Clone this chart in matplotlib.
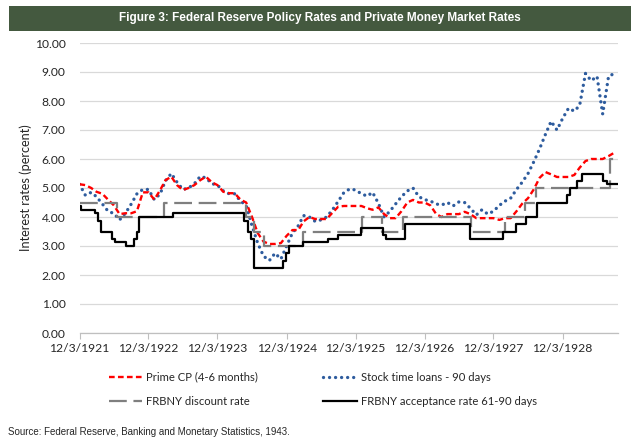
import matplotlib
matplotlib.use("Agg")
import matplotlib.pyplot as plt
from matplotlib.patches import Rectangle
from matplotlib.lines import Line2D
import numpy as np
import pandas as pd

# ---------------- data ----------------
title = "Figure 3: Federal Reserve Policy Rates and Private Money Market Rates"
source = "Source: Federal Reserve, Banking and Monetary Statistics, 1943."
ylabel = "Interest rates (percent)"
names = ["Prime CP (4-6 months)", "Stock time loans - 90 days",
         "FRBNY discount rate", "FRBNY acceptance rate 61-90 days"]
tick_dates = ["1921-12-03", "1922-12-03", "1923-12-03", "1924-12-03",
              "1925-12-03", "1926-12-03", "1927-12-03", "1928-12-03"]
tick_labels = ["12/3/1921", "12/3/1922", "12/3/1923", "12/3/1924",
               "12/3/1925", "12/3/1926", "12/3/1927", "12/3/1928"]
start_date = "1921-12-03"
end_date = "1929-09-17"
y_ticks = [0, 1, 2, 3, 4, 5, 6, 7, 8, 9, 10]

# monthly values, Dec 1921 .. Sep 1929
prime_cp = [5.13, 5.10, 5.00, 4.87, 4.80, 4.60, 4.40, 4.10, 4.13, 4.13,
            4.20, 4.85, 4.85, 4.60, 4.93, 5.27, 5.39, 5.10, 4.93, 5.00,
            5.10, 5.27, 5.39, 5.20, 5.10, 4.87, 4.82, 4.82, 4.60, 4.50,
            4.00, 3.45, 3.15, 3.07, 3.07, 3.10, 3.35, 3.55, 3.55, 3.85,
            4.00, 3.93, 3.93, 3.93, 4.15, 4.36, 4.38, 4.38, 4.38, 4.38,
            4.30, 4.25, 4.33, 4.10, 3.96, 3.96, 4.20, 4.50, 4.59, 4.50,
            4.50, 4.40, 4.10, 4.00, 4.10, 4.10, 4.10, 4.18, 4.10, 3.96,
            3.96, 3.96, 3.96, 3.90, 3.96, 3.96, 4.20, 4.46, 4.65, 4.95,
            5.35, 5.55, 5.47, 5.38, 5.38, 5.38, 5.45, 5.70, 5.93, 6.00,
            6.00, 6.00, 6.10, 6.22]
stock_loans = [5.13, 4.75, 4.85, 4.70, 4.45, 4.20, 4.12, 3.90, 4.13, 4.45,
               4.80, 4.95, 4.95, 4.60, 4.80, 5.25, 5.50, 5.20, 4.95, 5.00,
               5.15, 5.40, 5.35, 5.15, 5.10, 4.90, 4.80, 4.80, 4.55, 4.40,
               3.70, 3.10, 2.65, 2.50, 2.75, 2.55, 3.00, 3.45, 3.70, 4.05,
               4.00, 3.85, 3.90, 4.00, 4.25, 4.55, 4.85, 4.97, 4.93, 4.80,
               4.72, 4.85, 4.47, 4.00, 4.20, 4.45, 4.70, 4.90, 5.00, 4.70,
               4.60, 4.55, 4.45, 4.41, 4.50, 4.38, 4.52, 4.50, 4.30, 4.07,
               4.25, 4.10, 4.20, 4.40, 4.55, 4.65, 4.95, 5.20, 5.50, 5.90,
               6.35, 6.85, 7.30, 7.00, 7.40, 7.75, 7.65, 7.85, 8.95, 8.70,
               8.85, 7.55, 8.85, 8.95]

# step series: dates of change and new level
discount_dates = ["1921-12-03", "1922-06-22", "1923-02-23", "1924-05-01",
                  "1924-06-12", "1924-08-08", "1925-02-27", "1926-01-08",
                  "1926-04-23", "1926-08-13", "1927-08-05", "1928-02-03",
                  "1928-05-18", "1928-07-13", "1929-08-09"]
discount_rate = [4.5, 4.0, 4.5, 4.0, 3.5, 3.0, 3.5, 4.0, 3.5, 4.0, 3.5, 4.0,
                 4.5, 5.0, 6.0]
accept_dates = ["1921-12-03", "1921-12-12", "1922-02-23", "1922-03-10",
                "1922-03-26", "1922-05-26", "1922-06-10", "1922-08-04",
                "1922-09-18", "1922-10-03", "1922-10-16", "1923-04-10",
                "1924-04-24", "1924-05-12", "1924-05-30", "1924-06-14",
                "1924-11-15", "1924-11-30", "1924-12-18", "1925-03-01",
                "1925-07-10", "1925-09-03", "1926-01-03", "1926-04-27",
                "1926-05-12", "1926-08-21", "1927-07-31", "1928-01-24",
                "1928-03-31", "1928-05-25", "1928-07-19", "1928-12-27",
                "1929-01-12", "1929-02-17", "1929-03-13", "1929-07-07",
                "1929-07-28"]
accept_rate = [4.375, 4.25, 4.125, 3.875, 3.5, 3.25, 3.125, 3.0, 3.25, 3.5,
               4.0, 4.125, 3.875, 3.5, 3.25, 2.25, 2.5, 2.75, 3.0, 3.125,
               3.25, 3.375, 3.625, 3.375, 3.25, 3.75, 3.25, 3.5, 3.75, 4.0,
               4.5, 4.75, 5.0, 5.25, 5.5, 5.25, 5.125]

# ---------------- figure ----------------
plt.rcParams["font.family"] = ["Lato", "DejaVu Sans"]
fig = plt.figure(figsize=(6.4, 4.42), dpi=100)

W, H = 640.0, 442.0
# title banner
fig.patches.append(Rectangle((9 / W, 1 - 31 / H), 622 / W, 25 / H,
                             transform=fig.transFigure, facecolor="#44593f",
                             edgecolor="none", zorder=0))
fig.text(0.5, 1 - 18.5 / H, title, color="white", fontsize=8.5,
         fontweight="bold", family=["Liberation Sans", "DejaVu Sans"],
         ha="center", va="center")

ax = fig.add_axes([79.5 / W, 1 - 333 / H, (618 - 79.5) / W, 290 / H])

start = pd.Timestamp(start_date)
end = pd.Timestamp(end_date)
months = [start + pd.DateOffset(months=i) for i in range(len(prime_cp))]

red = "#ff0000"
blue = "#2e5c9e"
grey = "#7f7f7f"

d_x = list(pd.to_datetime(discount_dates)) + [end]
d_y = discount_rate + [discount_rate[-1]]
a_x = list(pd.to_datetime(accept_dates)) + [end]
a_y = accept_rate + [accept_rate[-1]]

ax.plot(months, stock_loans, color=blue, lw=2.4, linestyle=(0, (0.01, 1.8)),
        dash_capstyle="round", zorder=3)
ax.plot(months, prime_cp, color=red, lw=1.7, linestyle=(0, (2.4, 1.4)),
        zorder=4)
ax.plot(d_x, d_y, color=grey, lw=1.6, linestyle=(0, (8, 3)),
        drawstyle="steps-post", zorder=4)
ax.plot(a_x, a_y, color="black", lw=1.6, drawstyle="steps-post", zorder=5)

ax.set_xlim(start, pd.Timestamp("1929-09-22"))
ax.set_ylim(0, 10)
ax.set_yticks(y_ticks)
ax.set_yticklabels([f"{v:.2f}" for v in y_ticks])
ax.set_xticks(pd.to_datetime(tick_dates))
ax.set_xticklabels(tick_labels)
ax.grid(axis="y", color="#d9d9d9", lw=0.9)
ax.set_axisbelow(True)
for s in ["top", "right", "left"]:
    ax.spines[s].set_visible(False)
ax.spines["bottom"].set_color("#bfbfbf")
ax.spines["bottom"].set_linewidth(0.9)
ax.tick_params(axis="y", length=0, labelsize=8.7, labelcolor="#262626", pad=10)
ax.tick_params(axis="x", length=4, color="#bfbfbf", labelsize=8.7,
               labelcolor="#262626", pad=3)
ax.set_ylabel(ylabel, fontsize=9.2, color="#262626", labelpad=2)

handles = [
    Line2D([], [], color=red, lw=1.7, linestyle=(0, (2.4, 1.4))),
    Line2D([], [], color=grey, lw=1.6, linestyle=(0, (8, 3))),
    Line2D([], [], color=blue, lw=2.4, linestyle=(0, (0.01, 1.8)),
           dash_capstyle="round"),
    Line2D([], [], color="black", lw=1.6),
]
labels = [names[0], names[2], names[1], names[3]]
fig.legend(handles, labels, ncol=2, loc="upper left",
           bbox_to_anchor=(103 / W, 1 - 366 / H), frameon=False,
           fontsize=8.1, handlelength=3.0, handletextpad=0.35,
           columnspacing=5.8, labelspacing=1.2, borderpad=0,
           labelcolor="#262626")

fig.text(8 / W, 10 / H, source, fontsize=7.0, color="#262626",
         family=["Liberation Sans", "DejaVu Sans"], ha="left", va="center")

fig.savefig("out.png", dpi=100)
